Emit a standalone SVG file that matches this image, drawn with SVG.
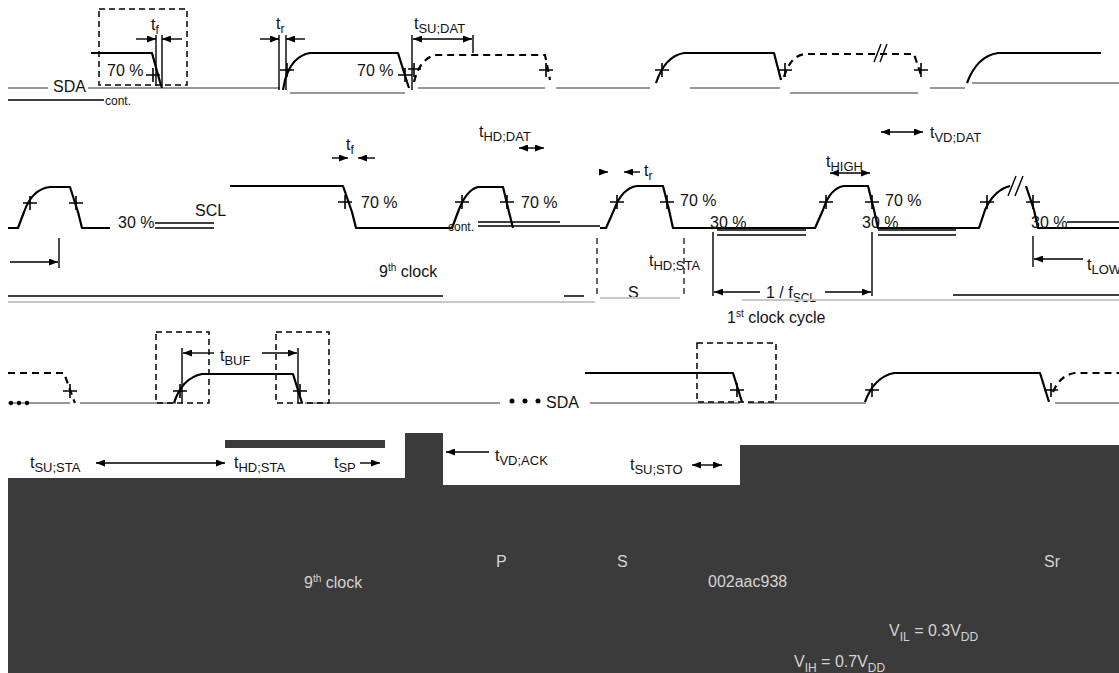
<svg xmlns="http://www.w3.org/2000/svg" width="1119" height="673" viewBox="0 0 1119 673">
<style>
.w{fill:none;stroke:#000;stroke-width:2.2;stroke-linejoin:round}
.dw{fill:none;stroke:#000;stroke-width:2.2;stroke-dasharray:7 5}
.lo{fill:none;stroke:#777;stroke-width:1.6}
.ln{fill:none;stroke:#000;stroke-width:1.4}
.gl{fill:none;stroke:#c8c8c8;stroke-width:2}
.box{fill:none;stroke:#000;stroke-width:1.5;stroke-dasharray:6 4}
.vd{fill:none;stroke:#000;stroke-width:1.2;stroke-dasharray:6 4}
.cr{fill:none;stroke:#000;stroke-width:1.6}
.ar{fill:none;stroke:#000;stroke-width:1.4;marker-end:url(#ah)}
.ab{fill:none;stroke:#000;stroke-width:1.4;marker-end:url(#ah);marker-start:url(#ah)}
text{font-family:"Liberation Sans",Arial,sans-serif;fill:#111;font-size:16px}
.lt{fill:#d4d4d4}
.sm{font-size:12px}
</style>
<defs>
<marker id="ah" markerWidth="9" markerHeight="7" refX="9" refY="3.5" orient="auto-start-reverse" markerUnits="userSpaceOnUse"><path d="M0,0 L9,3.5 L0,7z" fill="#000"/></marker>
</defs>
<rect width="1119" height="673" fill="#fff"/>

<g id="sda-top">
<path class="lo" d="M8,88 H48 M88,88 H280 M290,93 H405 M418,88 H545 M556,88 H650 M690,88 H780 M790,93 H918 M930,88 H965 M972,83 H1119"/>
<path class="ln" d="M8,100 H104"/>
<path class="w" d="M91,53 H152 L160,82 L162,88"/>
<path class="w" d="M283,90 L285,80 Q292,56 310,53 H398 L407,82 L409,88"/>
<path class="dw" d="M414,82 Q420,58 436,55 H545 L550,80"/>
<path class="w" d="M656,83 Q665,56 684,53 H774 L781,80"/>
<path class="dw" d="M784,77 Q790,56 805,54 H914 L922,78"/>
<path class="w" d="M967,83 Q977,56 998,53 H1101"/>
<path class="ln" d="M874,62 L881,44 M880,62 L887,44"/>
<path class="cr" d="M146,75 H160 M153,68 V82 M280,70 H294 M287,63 V77 M398,75 H412 M405,68 V82 M408,69 H421 M414,63 V77 M539,70 H553 M546,63 V77 M655,70 H669 M662,63 V77 M778,70 H792 M785,63 V77 M914,70 H928 M921,63 V77"/>
<rect class="box" x="99" y="9" width="88" height="76"/>
<text x="53" y="92">SDA</text>
<text x="105" y="105" class="sm">cont.</text>
</g>

<g id="timing-top">
<path class="ln" d="M156,35 V86 M162,35 V86"/>
<path class="ar" d="M136,39 H156"/>
<path class="ar" d="M182,39 H162"/>
<text x="151" y="30">t<tspan class="sm" dy="4">f</tspan></text>
<path class="ln" d="M279,35 V90 M286,35 V90"/>
<path class="ar" d="M260,39 H279"/>
<path class="ar" d="M305,39 H286"/>
<text x="276" y="29">t<tspan class="sm" dy="4">r</tspan></text>
<path class="ln" d="M412,35 V90 M473,35 V53"/>
<path class="ab" d="M413,39 H472"/>
<text x="414" y="29">t<tspan font-size="13" dy="4">SU;DAT</tspan></text>
<text x="107" y="76">70 %</text>
<text x="357" y="76">70 %</text>
<text x="479" y="137">t<tspan font-size="13" dy="4">HD;DAT</tspan></text>
<path class="ab" d="M519,148 H544"/>
<path class="ab" d="M881,132 H923"/>
<text x="930" y="138">t<tspan font-size="13" dy="4">VD;DAT</tspan></text>
</g>

<g id="scl-top">
<path class="w" d="M8,228 H18 L24,212 Q32,189 50,187 H70 L78,212 L82,228 H110"/>
<path class="ln" d="M155,223 H214 M155,228 H214"/>
<path class="w" d="M230,186 H343 L352,212 L356,228 H445"/>
<path class="w" d="M445,228 H452 L458,212 Q466,190 478,187 H503 L509,212 L513,228"/>
<path class="ln" d="M478,222 H560 M478,226 H600"/>
<path class="w" d="M600,228 H606 L614,210 Q622,188 637,186 H663 L669,210 L673,228 H810"/>
<path class="ln" d="M717,230 H806 M717,235 H806"/>
<path class="w" d="M810,228 H815 L823,210 Q830,188 844,186 H868 L874,210 L878,228 H975"/>
<path class="ln" d="M878,230 H956 M878,235 H956"/>
<path class="w" d="M975,228 H979 L985,210 Q994,190 1010,186 M1026,186 L1034,210 L1038,228 H1119"/>
<path class="ln" d="M1008,196 L1016,176 M1015,196 L1023,176"/>
<path class="ln" d="M1067,222 H1119"/>
<path class="cr" d="M23,203 H37 M30,196 V210 M69,203 H83 M76,196 V210 M338,202 H352 M345,195 V209 M455,202 H469 M462,195 V209 M500,202 H514 M507,195 V209 M610,202 H624 M617,195 V209 M660,202 H674 M667,195 V209 M819,202 H833 M826,195 V209 M865,202 H879 M872,195 V209 M980,202 H994 M987,195 V209 M1026,202 H1040 M1033,195 V209"/>
<text x="195" y="216">SCL</text>
<text x="118" y="228">30 %</text>
<text x="710" y="228">30 %</text>
<text x="862" y="228">30 %</text>
<text x="1031" y="228">30 %</text>
<text x="361" y="208">70 %</text>
<text x="521" y="208">70 %</text>
<text x="680" y="206">70 %</text>
<text x="885" y="206">70 %</text>
<text x="448" y="231" class="sm">cont.</text>
</g>

<g id="timing-mid">
<path class="ar" d="M332,158 H348"/>
<path class="ar" d="M375,158 H358"/>
<text x="346" y="150">t<tspan class="sm" dy="4">f</tspan></text>
<path class="ar" d="M600,172 H608"/>
<path class="ar" d="M640,172 H624"/>
<text x="644" y="176">t<tspan class="sm" dy="4">r</tspan></text>
<text x="826" y="167">t<tspan font-size="13" dy="4">HIGH</tspan></text>
<path class="ab" d="M830,173 H870"/>
<path class="vd" d="M597,238 V296 M684,238 V296"/>
<text x="649" y="266">t<tspan font-size="13" dy="4">HD;STA</tspan></text>
<text x="628" y="298">S</text>
<path class="ln" d="M713,232 V296 M872,232 V296"/>
<path class="ar" d="M760,292 H714"/>
<path class="ar" d="M825,292 H871"/>
<text x="766" y="298">1 / f<tspan font-size="12" dy="4">SCL</tspan></text>
<text x="727" y="323">1<tspan font-size="10" dy="-6">st</tspan><tspan dy="6"> clock cycle</tspan></text>
<path class="ln" d="M1033,236 V267"/>
<path class="ar" d="M1083,259 H1034"/>
<text x="1087" y="270">t<tspan font-size="13" dy="4">LOW</tspan></text>
<path class="ln" d="M59,238 V268"/>
<path class="ar" d="M10,262 H58"/>
<text x="379" y="277">9<tspan font-size="10" dy="-6">th</tspan><tspan dy="6"> clock</tspan></text>
<path class="ln" d="M8,296 H443 M953,295 H1119 M564,296 H584" stroke-width="2"/>
<path class="gl" d="M8,302 H595 M742,300 H1119 M600,298 H680"/>
</g>

<g id="sda-bottom">
<path class="lo" d="M8,403 H70 M80,403 H176 M305,403 H500 M590,403 H740 M748,403 H866 M1055,403 H1119"/>
<path class="dw" d="M8,373 H64 L73,398 L75,403"/>
<path class="w" d="M174,403 Q182,378 202,374 H293 L302,403"/>
<path class="w" d="M585,373 H733 L742,402"/>
<path class="w" d="M865,402 Q874,377 894,373 H1040 L1049,402"/>
<path class="dw" d="M1053,392 Q1060,375 1075,373 H1119"/>
<path class="cr" d="M63,391 H77 M70,384 V398 M173,391 H187 M180,384 V398 M293,391 H307 M300,384 V398 M730,390 H744 M737,383 V397 M865,390 H879 M872,383 V397 M1044,390 H1058 M1051,383 V397"/>
<rect class="box" x="156" y="332" width="53" height="71"/>
<rect class="box" x="276" y="332" width="53" height="71"/>
<rect class="box" x="697" y="343" width="79" height="59"/>
<circle cx="11" cy="403" r="2.2"/><circle cx="19" cy="403" r="2.2"/><circle cx="27" cy="403" r="2.2"/>
<circle cx="512" cy="401" r="2.5"/><circle cx="525" cy="401" r="2.5"/><circle cx="538" cy="401" r="2.5"/>
<text x="546" y="408">SDA</text>
</g>

<g id="timing-bottom">
<path class="ln" d="M182,348 V403 M298,348 V403"/>
<path class="ar" d="M214,353 H183"/>
<path class="ar" d="M262,353 H297"/>
<text x="220" y="361">t<tspan font-size="13" dy="4">BUF</tspan></text>
<rect x="8" y="485" width="1111" height="188" fill="#3b3b3b"/>
<rect x="740" y="445" width="379" height="40" fill="#3b3b3b"/>
<rect x="405" y="433" width="38" height="52" fill="#3b3b3b"/>
<rect x="225" y="440" width="160" height="8" fill="#3b3b3b"/>
<rect x="8" y="478" width="400" height="7" fill="#3b3b3b"/>
<text x="30" y="468">t<tspan font-size="13" dy="4">SU;STA</tspan></text>
<path class="ab" d="M96,463 H225"/>
<text x="234" y="468">t<tspan font-size="13" dy="4">HD;STA</tspan></text>
<text x="334" y="468">t<tspan font-size="13" dy="4">SP</tspan></text>
<path class="ar" d="M360,463 H380"/>
<path class="ar" d="M489,452 H446"/>
<text x="495" y="461">t<tspan font-size="13" dy="4">VD;ACK</tspan></text>
<text x="630" y="470">t<tspan font-size="13" dy="4">SU;STO</tspan></text>
<path class="ab" d="M692,465 H722"/>
<text class="lt" x="496" y="567">P</text>
<text class="lt" x="617" y="567">S</text>
<text class="lt" x="1044" y="567">Sr</text>
<text class="lt" x="304" y="588">9<tspan font-size="10" dy="-6">th</tspan><tspan dy="6"> clock</tspan></text>
<text class="lt" x="708" y="587" font-size="11">002aac938</text>
<text class="lt" x="889" y="636" font-size="18">V<tspan font-size="12" dy="5">IL</tspan><tspan dy="-5"> = 0.3V</tspan><tspan font-size="12" dy="5">DD</tspan></text>
<text class="lt" x="794" y="667" font-size="18">V<tspan font-size="12" dy="5">IH</tspan><tspan dy="-5"> = 0.7V</tspan><tspan font-size="12" dy="5">DD</tspan></text>
</g>
</svg>
